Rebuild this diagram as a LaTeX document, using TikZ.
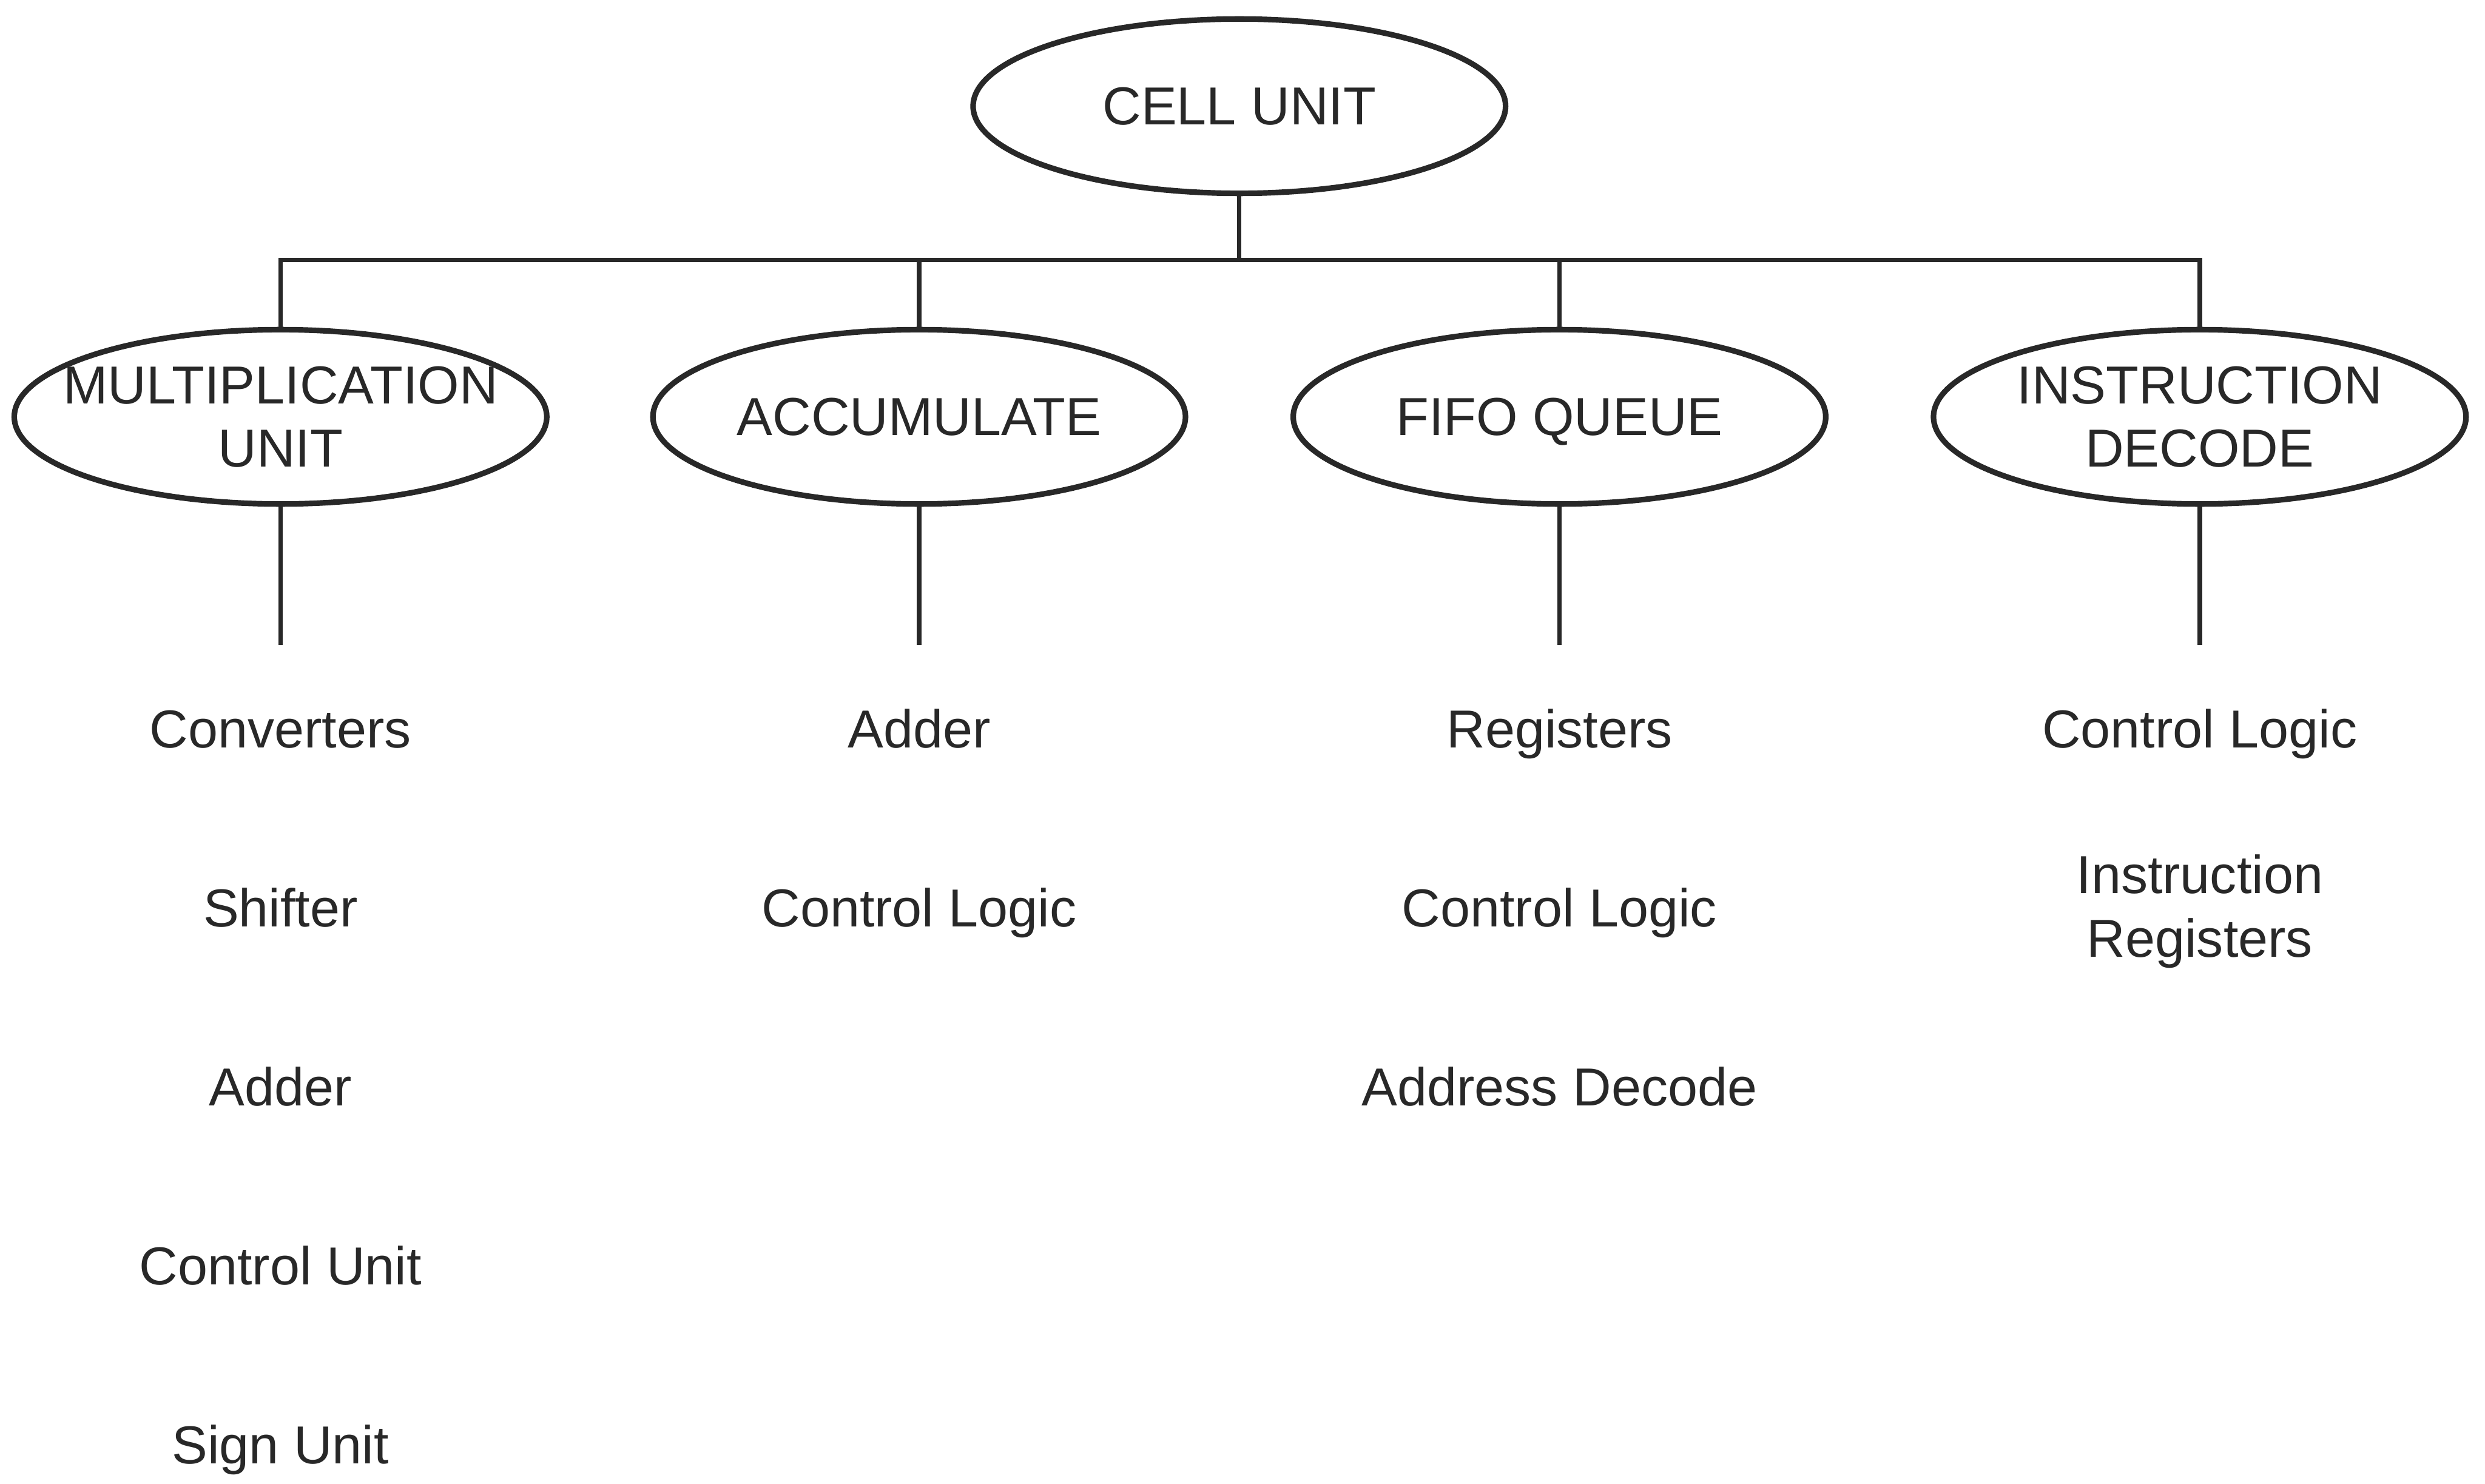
\documentclass[tikz,border=0pt]{standalone}
\usepackage{fontspec}
\setmainfont{Liberation Sans}
\usepackage{tikz}
\usetikzlibrary{shapes.geometric, positioning}
\definecolor{ink}{RGB}{40,40,40}
\newcommand{\unitfont}{\fontsize{9.6}{11.4}\selectfont}
\newcommand{\nowd}[1]{\makebox[0pt]{#1}}
\tikzset{
  unit/.style={ellipse, draw=ink, line width=1pt, minimum width=3.36cm,
    minimum height=1.10cm, inner sep=0pt, align=center, font=\unitfont, text=ink},
  flat/.style={text depth=0pt},
  part/.style={align=center, font=\unitfont, text=ink, inner sep=1pt,
    text height=1.6ex, text depth=0.45ex},
  twoline/.style={align=center, font=\unitfont, text=ink, inner sep=1pt},
  line/.style={line width=0.8pt, color=ink}
}

\begin{document}
\begin{tikzpicture}
    \useasboundingbox (0,0) rectangle (15.68,-9.36);
    % Top unit
    \node[unit, flat] (cell) at (7.82,-0.67) {CELL UNIT};
    % Sub units
    \node[unit] (mult)  at (1.77,-2.63) {\nowd{MULTIPLICATION}\\\nowd{UNIT}};
    \node[unit, flat] (acc)   at (5.80,-2.63) {ACCUMULATE};
    \node[unit, flat] (fifo)  at (9.84,-2.63) {FIFO QUEUE};
    \node[unit] (instr) at (13.88,-2.63) {\nowd{INSTRUCTION}\\\nowd{DECODE}};
    % Bus
    \coordinate (bus) at (7.83,-1.64);
    \draw[line] (cell.south) -- (cell.south |- bus);
    \draw[line] (mult.north) |- (bus) -| (instr.north);
    \draw[line] (acc.north) -- (acc.north |- bus);
    \draw[line] (fifo.north) -- (fifo.north |- bus);
    % Stubs
    \foreach \n in {mult,acc,fifo,instr}
      \draw[line] (\n.south) -- ++(0,-0.87) coordinate (\n-end);
    % Multiplication parts
    \node[part] (conv)  at (1.77,-4.61) {Converters};
    \node[part] (shift) at (1.77,-5.74) {Shifter};
    \node[part] (madd)  at (1.77,-6.87) {Adder};
    \node[part] (mctl)  at (1.77,-8.00) {Control Unit};
    \node[part] (sign)  at (1.77,-9.13) {Sign Unit};
    % Accumulate parts
    \node[part] (aadd)  at (5.80,-4.61) {Adder};
    \node[part] (actl)  at (5.80,-5.74) {Control Logic};
    % FIFO parts
    \node[part] (freg)  at (9.84,-4.61) {Registers};
    \node[part] (fctl)  at (9.84,-5.74) {Control Logic};
    \node[part] (fadr)  at (9.84,-6.87) {Address Decode};
    % Instruction parts
    \node[part] (ictl)  at (13.88,-4.61) {Control Logic};
    \node[twoline] (ireg) at (13.88,-5.75) {Instruction\\Registers};
\end{tikzpicture}
\end{document}
